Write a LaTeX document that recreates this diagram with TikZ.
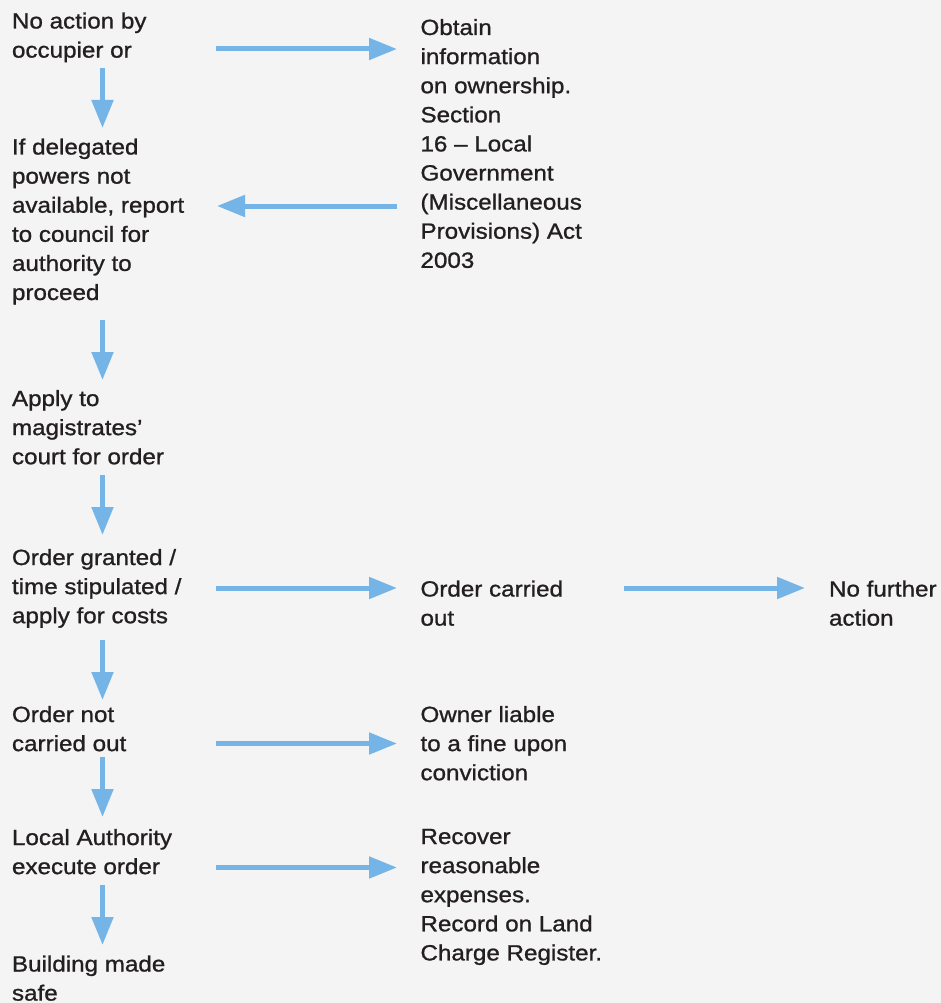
\documentclass[tikz,border=0pt]{standalone}
\usepackage{fontspec}
\setmainfont{Liberation Sans}[FakeStretch=1.1,FakeBold=1.0]
\usetikzlibrary{arrows.meta}
\definecolor{bgc}{HTML}{F4F4F4}
\definecolor{txt}{HTML}{231F20}
\definecolor{arrc}{HTML}{74B4E6}
\newcommand{\lines}[1]{\begin{tabular}[t]{@{}l@{}}#1\end{tabular}}
\begin{document}
\begin{tikzpicture}[x=1pt,y=-1pt,
  lbl/.style={anchor=base west,inner sep=0pt,outer sep=0pt,text=txt,
    font=\fontsize{22}{29.1}\selectfont},
  flowarrow/.style={draw=arrc,line width=5pt,-{Triangle[length=28pt,width=21pt]}}]
\useasboundingbox[fill=bgc] (0,0) rectangle (941,1003);
% left column
\node[lbl] (l1) at (12,28.5) {\lines{No action by\\occupier or}};
\node[lbl] (l2) at (12,154.5) {\lines{If delegated\\powers not\\available, report\\to council for\\authority to\\proceed}};
\node[lbl] (l3) at (12,406) {\lines{Apply to\\magistrates’\\court for order}};
\node[lbl] (l4) at (12,565) {\lines{Order granted /\\time stipulated /\\apply for costs}};
\node[lbl] (l5) at (12,722) {\lines{Order not\\carried out}};
\node[lbl] (l6) at (12,845) {\lines{Local Authority\\execute order}};
\node[lbl] (l7) at (12,971.5) {\lines{Building made\\safe}};
% right column
\node[lbl] (r1) at (420.5,35) {\lines{Obtain\\information\\on ownership.\\Section\\16 – Local\\Government\\(Miscellaneous\\Provisions) Act\\2003}};
\node[lbl] (r2) at (420.5,596.5) {\lines{Order carried\\out}};
\node[lbl] (r3) at (420.5,722) {\lines{Owner liable\\to a fine upon\\conviction}};
\node[lbl] (r4) at (420.5,844) {\lines{Recover\\reasonable\\expenses.\\Record on Land\\Charge Register.}};
\node[lbl] (f1) at (829,596.5) {\lines{No further\\action}};
% connector end points
\coordinate (d1a) at (102.5,68);  \coordinate (d1b) at (102.5,128);
\coordinate (d2a) at (102.5,320); \coordinate (d2b) at (102.5,380);
\coordinate (d3a) at (102.5,475); \coordinate (d3b) at (102.5,535);
\coordinate (d4a) at (102.5,640); \coordinate (d4b) at (102.5,700);
\coordinate (d5a) at (102.5,757); \coordinate (d5b) at (102.5,817);
\coordinate (d6a) at (102.5,885); \coordinate (d6b) at (102.5,945);
\coordinate (h1a) at (216,49);    \coordinate (h1b) at (397,49);
\coordinate (h2a) at (397,206);   \coordinate (h2b) at (217,206);
\coordinate (h3a) at (216,588);   \coordinate (h3b) at (397,588);
\coordinate (h4a) at (624,588);   \coordinate (h4b) at (805,588);
\coordinate (h5a) at (216,743.5); \coordinate (h5b) at (397,743.5);
\coordinate (h6a) at (216,867.5); \coordinate (h6b) at (397,867.5);
\foreach \s in {d1,d2,d3,d4,d5,d6,h1,h2,h3,h4,h5,h6}
  \draw[flowarrow] (\s a) -- (\s b);
\end{tikzpicture}
\end{document}
